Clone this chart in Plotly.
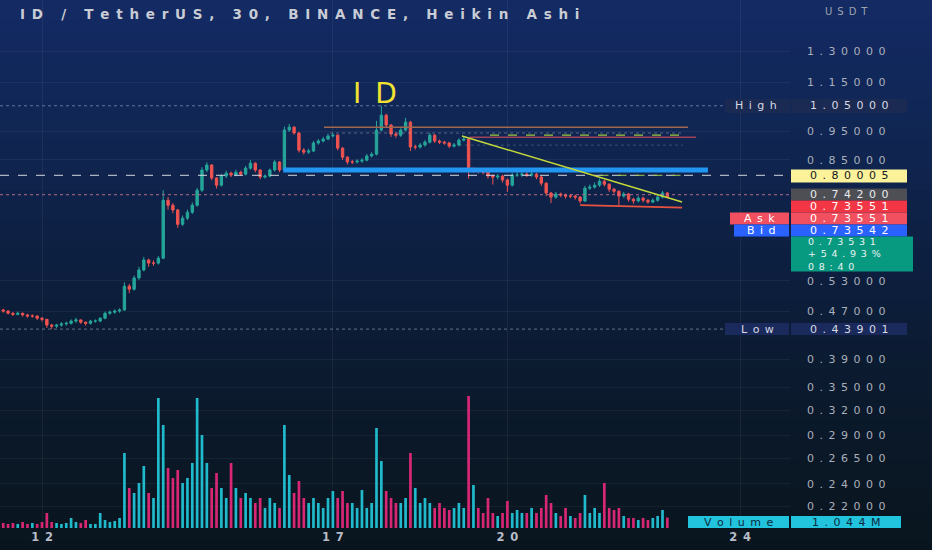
import numpy as np
import pandas as pd
import plotly.graph_objects as go

# ---------------- data ----------------
TITLE = "ID / TetherUS, 30, BINANCE, Heikin Ashi"
START = "2023-04-11 06:00"
FREQ = "2h"

OPEN = [0.476, 0.473, 0.471, 0.467, 0.465, 0.467, 0.464, 0.462, 0.462, 0.458,
        0.456, 0.446, 0.444, 0.446, 0.448, 0.449, 0.453, 0.455, 0.451, 0.449,
        0.453, 0.453, 0.458, 0.467, 0.469, 0.471, 0.473, 0.519, 0.513, 0.536,
        0.553, 0.575, 0.568, 0.568, 0.579, 0.726, 0.712, 0.699, 0.661, 0.677,
        0.693, 0.712, 0.755, 0.817, 0.833, 0.792, 0.770, 0.798, 0.807, 0.801,
        0.810, 0.804, 0.823, 0.839, 0.817, 0.795, 0.798, 0.817, 0.843, 0.817,
        0.955, 0.966, 0.944, 0.883, 0.876, 0.880, 0.908, 0.915, 0.922, 0.933,
        0.936, 0.890, 0.859, 0.843, 0.843, 0.846, 0.849, 0.863, 0.869, 0.955,
        1.012, 0.974, 0.940, 0.936, 0.955, 0.985, 0.894, 0.894, 0.901, 0.911,
        0.936, 0.915, 0.911, 0.908, 0.897, 0.901, 0.918, 0.922, 0.817, 0.817,
        0.814, 0.810, 0.798, 0.795, 0.798, 0.786, 0.770, 0.801, 0.801, 0.804,
        0.801, 0.804, 0.795, 0.776, 0.747, 0.735, 0.744, 0.741, 0.738, 0.738,
        0.735, 0.724, 0.761, 0.764, 0.770, 0.782, 0.773, 0.758, 0.752, 0.738,
        0.744, 0.729, 0.724, 0.732, 0.726, 0.721, 0.726, 0.735, 0.747]
HIGH = [0.479, 0.475, 0.473, 0.469, 0.470, 0.468, 0.466, 0.465, 0.463, 0.460,
        0.457, 0.448, 0.448, 0.451, 0.452, 0.456, 0.459, 0.456, 0.452, 0.455,
        0.456, 0.460, 0.470, 0.472, 0.474, 0.476, 0.527, 0.524, 0.541, 0.560,
        0.582, 0.578, 0.574, 0.584, 0.755, 0.735, 0.718, 0.702, 0.684, 0.700,
        0.720, 0.762, 0.826, 0.842, 0.836, 0.795, 0.805, 0.815, 0.812, 0.818,
        0.815, 0.830, 0.850, 0.842, 0.820, 0.803, 0.822, 0.850, 0.846, 0.968,
        0.978, 0.970, 0.948, 0.890, 0.888, 0.915, 0.922, 0.930, 0.942, 0.945,
        0.940, 0.893, 0.862, 0.850, 0.852, 0.856, 0.870, 0.876, 0.990, 1.050,
        1.018, 0.978, 0.948, 0.962, 1.002, 0.990, 0.902, 0.908, 0.918, 0.945,
        0.940, 0.920, 0.916, 0.912, 0.908, 0.925, 0.932, 0.926, 0.826, 0.822,
        0.818, 0.813, 0.803, 0.805, 0.802, 0.790, 0.808, 0.810, 0.812, 0.810,
        0.812, 0.808, 0.798, 0.779, 0.750, 0.750, 0.748, 0.745, 0.744, 0.742,
        0.738, 0.768, 0.772, 0.778, 0.790, 0.786, 0.776, 0.762, 0.755, 0.750,
        0.747, 0.733, 0.738, 0.736, 0.730, 0.731, 0.741, 0.753, 0.750]
LOW = [0.470, 0.468, 0.465, 0.462, 0.463, 0.461, 0.459, 0.459, 0.455, 0.452,
       0.441, 0.439, 0.441, 0.443, 0.445, 0.447, 0.450, 0.448, 0.445, 0.447,
       0.450, 0.451, 0.456, 0.464, 0.466, 0.468, 0.472, 0.505, 0.510, 0.532,
       0.550, 0.560, 0.562, 0.565, 0.577, 0.700, 0.690, 0.652, 0.657, 0.672,
       0.688, 0.708, 0.750, 0.810, 0.785, 0.760, 0.766, 0.792, 0.795, 0.797,
       0.798, 0.800, 0.818, 0.810, 0.788, 0.790, 0.794, 0.812, 0.810, 0.815,
       0.948, 0.938, 0.875, 0.868, 0.870, 0.876, 0.902, 0.910, 0.918, 0.928,
       0.882, 0.850, 0.835, 0.836, 0.838, 0.840, 0.845, 0.858, 0.865, 0.950,
       0.965, 0.930, 0.926, 0.930, 0.950, 0.880, 0.885, 0.888, 0.895, 0.906,
       0.908, 0.904, 0.902, 0.890, 0.892, 0.896, 0.914, 0.790, 0.808, 0.806,
       0.803, 0.790, 0.772, 0.788, 0.778, 0.750, 0.766, 0.795, 0.796, 0.795,
       0.796, 0.788, 0.768, 0.738, 0.718, 0.730, 0.735, 0.731, 0.732, 0.728,
       0.717, 0.721, 0.756, 0.760, 0.765, 0.766, 0.750, 0.745, 0.712, 0.733,
       0.722, 0.716, 0.720, 0.720, 0.716, 0.718, 0.722, 0.731, 0.732]
CLOSE = [0.473, 0.471, 0.467, 0.465, 0.467, 0.464, 0.462, 0.462, 0.458, 0.456,
         0.446, 0.444, 0.446, 0.448, 0.449, 0.453, 0.455, 0.451, 0.449, 0.453,
         0.453, 0.458, 0.467, 0.469, 0.471, 0.473, 0.519, 0.513, 0.536, 0.553,
         0.575, 0.568, 0.568, 0.579, 0.726, 0.712, 0.699, 0.661, 0.677, 0.693,
         0.712, 0.755, 0.817, 0.833, 0.792, 0.770, 0.798, 0.807, 0.801, 0.810,
         0.804, 0.823, 0.839, 0.817, 0.795, 0.798, 0.817, 0.843, 0.817, 0.955,
         0.966, 0.944, 0.883, 0.876, 0.880, 0.908, 0.915, 0.922, 0.933, 0.936,
         0.890, 0.859, 0.843, 0.843, 0.846, 0.849, 0.863, 0.869, 0.955, 1.012,
         0.974, 0.940, 0.936, 0.955, 0.985, 0.894, 0.894, 0.901, 0.911, 0.936,
         0.915, 0.911, 0.908, 0.897, 0.901, 0.918, 0.922, 0.817, 0.817, 0.814,
         0.810, 0.798, 0.795, 0.798, 0.786, 0.770, 0.801, 0.801, 0.804, 0.801,
         0.804, 0.795, 0.776, 0.747, 0.735, 0.744, 0.741, 0.738, 0.738, 0.735,
         0.724, 0.761, 0.764, 0.770, 0.782, 0.773, 0.758, 0.752, 0.738, 0.744,
         0.729, 0.724, 0.732, 0.726, 0.721, 0.726, 0.735, 0.747, 0.7355]
VOLUME_M = [0.4, 0.5, 0.4, 0.5, 0.4, 0.6, 0.4, 0.5, 0.4, 0.6,
            1.5, 0.6, 0.5, 0.4, 0.5, 1.0, 0.6, 0.5, 0.8, 0.4,
            0.4, 1.5, 0.8, 0.6, 0.7, 1.0, 7.5, 4.0, 3.5, 4.5,
            6.2, 3.5, 3.0, 13.0, 10.3, 6.0, 5.0, 5.8, 4.5, 5.0,
            6.5, 13.0, 9.3, 6.5, 4.0, 5.5, 4.0, 3.0, 6.5, 4.0,
            3.0, 3.5, 3.0, 2.5, 3.0, 2.0, 3.0, 2.5, 2.0, 10.3,
            5.3, 3.5, 4.7, 3.0, 2.5, 3.0, 2.5, 2.0, 3.0, 3.7,
            3.0, 3.7, 2.5, 2.5, 2.0, 3.8, 2.0, 2.5, 10.0, 6.7,
            3.7, 3.0, 2.5, 2.5, 3.0, 7.5, 4.0, 2.5, 3.0, 2.5,
            2.0, 2.5, 2.0, 1.8, 2.0, 2.5, 2.0, 13.2, 4.3, 2.0,
            1.5, 3.0, 1.5, 1.2, 1.5, 2.7, 1.5, 1.8, 1.5, 1.5,
            2.0, 1.5, 2.0, 3.3, 2.5, 1.5, 1.2, 2.0, 1.2, 1.0,
            1.5, 3.3, 1.5, 2.0, 1.5, 4.5, 2.0, 1.8, 2.0, 1.2,
            1.0, 1.0, 0.8, 1.0, 0.8, 1.0, 1.2, 1.8, 1.044]

Y_TICKS = [1.30, 1.15, 0.95, 0.85, 0.53, 0.47, 0.39, 0.35,
           0.32, 0.29, 0.265, 0.24, 0.22]
X_TICKS = ["2023-04-12", "2023-04-17", "2023-04-20", "2023-04-24"]
X_TICK_LABELS = ["12", "17", "20", "24"]
X_RANGE = ["2023-04-11 06:40", "2023-04-24 20:36"]
Y_RANGE = [0.2019, 1.587]

# price labels on the right scale
HIGH_VALUE = 1.05
LOW_VALUE = 0.43901
ALERT_LEVEL = 0.80005
PREV_CLOSE_LEVEL = 0.742
LAST_PRICE = 0.73551
ASK = 0.73551
BID = 0.73542
MID_PRICE = "0.73531"
CHANGE = "+54.93%"
COUNTDOWN = "08:40"
LAST_VOLUME = "1.044M"

# user drawings (time, price)
SUPPORT_ZONE = (["2023-04-16 03:30", "2023-04-23 10:45"], 0.817)
BROWN_LEVEL = (["2023-04-16 20:20", "2023-04-23 02:30"], 0.966)
RED_LEVEL = (["2023-04-19 08:30", "2023-04-23 05:50"], 0.929)
GREEN_DASH = (["2023-04-19 16:50", "2023-04-23 00:30"], 0.936)
GREEN_DASH_LOW = (["2023-04-21 14:00", "2023-04-23 00:30"], 0.80005)
GREY_DOT_1 = (["2023-04-16 22:50", "2023-04-23 00:30"], 0.944)
GREY_DOT_2 = (["2023-04-19 04:00", "2023-04-23 00:30"], 0.9005)
TRENDLINE = (["2023-04-19 05:15", "2023-04-23 00:05"], [0.933, 0.721])
BOTTOM_LINE = (["2023-04-21 06:00", "2023-04-23 00:05"], [0.7124, 0.7057])

# ---------------- styling ----------------
UP, DOWN = "#26a69a", "#ef5350"
VOL_UP, VOL_DOWN = "#22c3d6", "#e2287a"
FONT = "DejaVu Sans"
PLOT_W, PLOT_H = 790, 528


def sp(s, gap="\u2002"):
    return gap.join(list(s))


times = pd.date_range(START, periods=len(CLOSE), freq=FREQ)
vol_colors = [VOL_UP if c >= o else VOL_DOWN for o, c in zip(OPEN, CLOSE)]

fig = go.Figure()

fig.add_trace(go.Bar(x=times, y=VOLUME_M, yaxis="y2", marker_color=vol_colors,
                     marker_line_width=0, width=4.0e6, opacity=0.95,
                     hoverinfo="skip", showlegend=False))

fig.add_trace(go.Candlestick(
    x=times, open=OPEN, high=HIGH, low=LOW, close=CLOSE,
    increasing=dict(line=dict(color=UP, width=1), fillcolor=UP),
    decreasing=dict(line=dict(color=DOWN, width=1), fillcolor=DOWN),
    whiskerwidth=0, hoverinfo="skip", showlegend=False))


def hline(xs, ys, color, width=1, dash="solid"):
    if not isinstance(ys, (list, tuple)):
        ys = [ys, ys]
    fig.add_trace(go.Scatter(x=xs, y=ys, mode="lines",
                             line=dict(color=color, width=width, dash=dash),
                             hoverinfo="skip", showlegend=False))


hline([X_RANGE[0], "2023-04-23 19:00"], HIGH_VALUE, "rgba(170,180,200,0.55)", 1, "dot")
hline([X_RANGE[0], "2023-04-23 18:00"], LOW_VALUE, "rgba(170,180,200,0.55)", 1, "dot")
hline(X_RANGE, PREV_CLOSE_LEVEL, "rgba(190,110,140,0.75)", 1.2, "dot")
hline(GREY_DOT_1[0], GREY_DOT_1[1], "rgba(170,180,200,0.45)", 1, "dot")
hline(GREY_DOT_2[0], GREY_DOT_2[1], "rgba(170,180,200,0.3)", 1, "dot")
hline(X_RANGE, ALERT_LEVEL, "rgba(210,215,225,0.8)", 1.2, "dash")
hline(GREEN_DASH_LOW[0], GREEN_DASH_LOW[1], "rgba(160,200,80,0.8)", 1.2, "dash")
hline(SUPPORT_ZONE[0], SUPPORT_ZONE[1], "#2196f3", 5)
hline(BROWN_LEVEL[0], BROWN_LEVEL[1], "#a0674f", 1.5)
hline(RED_LEVEL[0], RED_LEVEL[1], "#9c4358", 1.5)
hline(GREEN_DASH[0], GREEN_DASH[1], "#9ccc3c", 1.3, "dash")
hline(TRENDLINE[0], TRENDLINE[1], "#c5d93a", 1.5)
hline(BOTTOM_LINE[0], BOTTOM_LINE[1], "#e8533f", 1.8)


def px(p):
    return p / PLOT_W


def py(p):
    return 1 - p / PLOT_H


# ---- gradient background bands ----
stops = [(0, (19, 42, 100)), (120, (16, 38, 84)), (260, (13, 31, 64)),
         (380, (11, 26, 46)), (550, (9, 21, 30))]
shapes = []
band = 10
for top in range(0, 550, band):
    mid = top + band / 2
    for (y0, c0), (y1, c1) in zip(stops[:-1], stops[1:]):
        if y0 <= mid <= y1:
            t = (mid - y0) / (y1 - y0)
            col = tuple(int(round(a + (b - a) * t)) for a, b in zip(c0, c1))
            break
    shapes.append(dict(type="rect", xref="paper", yref="paper", layer="below",
                       x0=0, x1=px(932), y0=py(top + band + 1), y1=py(top),
                       fillcolor="rgb(%d,%d,%d)" % col, line=dict(width=0)))

ann = []


def rect(x0, x1, yc, h, bg):
    shapes.append(dict(type="rect", xref="paper", yref="paper", layer="above",
                       x0=px(x0), x1=px(x1), y0=py(yc + h / 2), y1=py(yc - h / 2),
                       fillcolor=bg, line=dict(width=0)))


def label(x, y, text, color, size=11, anchor="center", weight="normal"):
    ann.append(dict(xref="paper", yref="paper", x=px(x), y=py(y), text=text,
                    showarrow=False, xanchor=anchor, yanchor="middle",
                    align="left", borderpad=0,
                    font=dict(family=FONT, size=size, color=color, weight=weight)))


def price_box(yc, h, text, bg, fg, x1=907):
    rect(791, x1, yc, h, bg)
    label((791 + x1) / 2, yc, text, fg)


# title, unit, drawing label
label(19, 14, sp(TITLE), "#c9ccd4", size=13.5, anchor="left", weight="bold")
label(846, 11, sp("USDT"), "#9ea3ad", size=10)
label(375, 93, "I\u2002D", "#f2e232", size=28)

# right-side price boxes
rect(725, 790, 106, 14, "#1b2a52")
label(756, 106, sp("High"), "#d7dae2")
price_box(106, 14, sp("%.5f" % HIGH_VALUE), "#1b2a52", "#d7dae2")
price_box(176, 13, sp("%.5f" % ALERT_LEVEL), "#fbf29a", "#131722")
price_box(194.5, 12, sp("%.5f" % PREV_CLOSE_LEVEL), "#4d4f55", "#e8e9ec")
price_box(206.5, 12, sp("%.5f" % LAST_PRICE), "#f23645", "#ffffff")
rect(730, 789, 218.5, 12, "#f0505f")
label(759.5, 218.5, sp("Ask"), "#ffffff")
price_box(218.5, 12, sp("%.5f" % ASK), "#f0505f", "#ffffff")
rect(734, 789, 230.5, 12, "#2962ff")
label(761.5, 230.5, sp("Bid"), "#ffffff")
price_box(230.5, 12, sp("%.5f" % BID), "#2962ff", "#ffffff")
rect(791, 913, 254, 35, "#089981")
label(807, 254, "<br>".join([sp(MID_PRICE), sp(CHANGE), sp(COUNTDOWN)]),
      "#e9f5f2", size=9.5, anchor="left")
rect(725, 789, 329, 12, "#1b2a5c")
label(757, 329, sp("Low"), "#d7dae2")
price_box(329, 12, sp("%.5f" % LOW_VALUE), "#1b2a5c", "#d7dae2")
rect(688, 789, 522, 12, "#22c3dc")
label(738.5, 522, sp("Volume"), "#0d2a3c")
price_box(522, 12, sp(LAST_VOLUME), "#22c3dc", "#0d2a3c", x1=901)

fig.update_layout(
    width=932, height=550,
    margin=dict(l=0, r=932 - PLOT_W, t=0, b=550 - PLOT_H),
    paper_bgcolor="rgb(9,21,30)", plot_bgcolor="rgba(0,0,0,0)",
    showlegend=False, shapes=shapes, annotations=ann,
    xaxis=dict(type="date", range=X_RANGE, rangeslider=dict(visible=False),
               tickvals=X_TICKS, ticktext=[sp(t) for t in X_TICK_LABELS],
               tickfont=dict(family=FONT, size=11.5, color="#b8bcc6", weight="bold"),
               showgrid=True, gridcolor="rgba(255,255,255,0.06)", gridwidth=1,
               zeroline=False, showline=False, ticks=""),
    yaxis=dict(type="log", range=[np.log10(Y_RANGE[0]), np.log10(Y_RANGE[1])],
               side="right", tickvals=Y_TICKS,
               ticktext=[sp("%.5f" % v) for v in Y_TICKS],
               tickfont=dict(family=FONT, size=11, color="#aab0bb"),
               showgrid=True, gridcolor="rgba(255,255,255,0.05)",
               zeroline=False, showline=False, ticks="", ticklabelstandoff=16),
    yaxis2=dict(overlaying="y", range=[0, 13.2 * PLOT_H / 132], visible=False),
)

fig.write_html("out.html", config={"displayModeBar": False},
               post_script="document.body.style.margin='0';"
                           "document.body.style.overflow='hidden';")
